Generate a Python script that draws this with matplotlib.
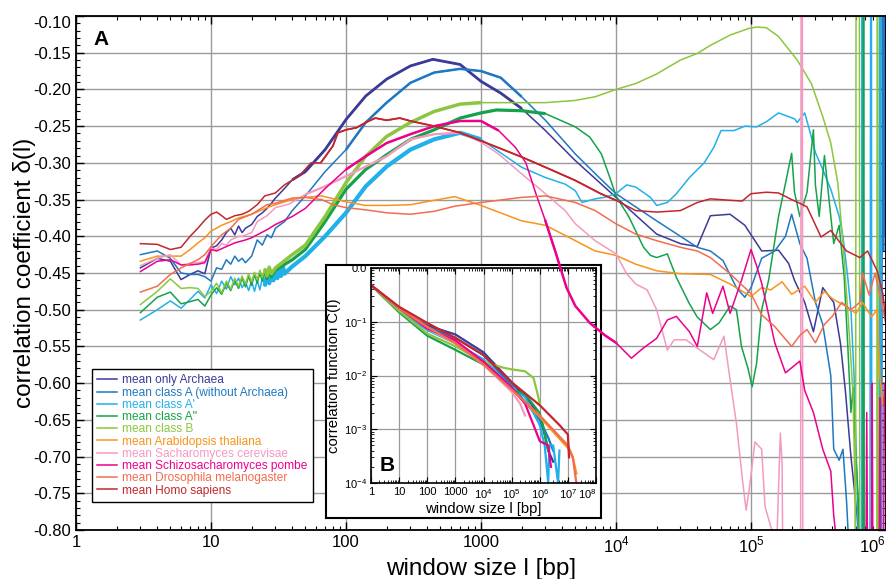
import numpy as np
import matplotlib
matplotlib.use('Agg')
import matplotlib.pyplot as plt
from matplotlib.ticker import MultipleLocator, LogLocator, NullFormatter
from matplotlib.lines import Line2D

plt.rcParams['font.family'] = ['Liberation Sans', 'DejaVu Sans']
plt.rcParams['mathtext.fontset'] = 'custom'
plt.rcParams['mathtext.rm'] = 'Liberation Sans'

# ---- panel A: window size l vs correlation coefficient delta(l) ----
archaea_l = [3, 4, 5, 6, 7, 8, 9, 10, 11, 12, 13, 14, 15, 16, 17, 18, 20, 22, 24, 26, 28, 30, 35, 40, 50, 70,
             100, 140, 200, 300, 440, 700, 1000, 1400, 2000, 3000, 5000, 1e4, 2e4, 3e4, 4e4, 5e4, 7e4, 9e4,
             1.2e5, 1.6e5, 1.9e5, 2.1e5, 2.5e5, 2.9e5, 3.4e5, 4.1e5, 4.6e5, 5e5, 5.5e5, 6.1e5, 6.6e5]
archaea_d = [-0.443, -0.430, -0.434, -0.459, -0.452, -0.447, -0.451, -0.416, -0.413, -0.405, -0.395, -0.389,
             -0.398, -0.386, -0.395, -0.389, -0.384, -0.373, -0.368, -0.362, -0.355, -0.348, -0.335, -0.323,
             -0.312, -0.282, -0.241, -0.209, -0.186, -0.168, -0.159, -0.166, -0.189, -0.205, -0.226, -0.256,
             -0.297, -0.347, -0.397, -0.410, -0.414, -0.372, -0.370, -0.385, -0.420, -0.419, -0.437, -0.460,
             -0.490, -0.530, -0.470, -0.490, -0.546, -0.610, -0.700, -0.780, -0.860]

classA_l = [3, 4, 5, 6, 7, 8, 9, 10, 11, 12, 13, 14, 15, 16, 17, 18, 20, 22, 24, 26, 28, 30, 35, 40, 50, 70,
            100, 140, 200, 300, 450, 700, 1000, 1400, 2000, 3000, 5000, 7500, 1e4, 1.4e4, 2e4, 3e4, 4e4, 5e4,
            6.2e4, 7.8e4, 9e4, 1e5, 1.2e5, 1.5e5, 1.8e5, 2e5, 2.3e5, 2.6e5, 3e5, 3.4e5, 3.9e5, 4.1e5, 4.5e5,
            4.8e5, 5.1e5, 5.4e5, 6.6e5, 6.7e5, 6.75e5, 6.8e5, 9.3e5, 9.4e5, 9.5e5, 9.6e5, 9.7e5, 9.8e5,
            9.9e5, 1e6]
classA_d = [-0.425, -0.420, -0.430, -0.450, -0.452, -0.452, -0.455, -0.461, -0.443, -0.445, -0.432, -0.438,
            -0.427, -0.434, -0.430, -0.436, -0.427, -0.405, -0.412, -0.398, -0.402, -0.389, -0.380, -0.365,
            -0.345, -0.312, -0.282, -0.245, -0.218, -0.191, -0.177, -0.172, -0.175, -0.184, -0.210, -0.242,
            -0.288, -0.320, -0.342, -0.360, -0.379, -0.400, -0.415, -0.420, -0.433, -0.470, -0.483, -0.470,
            -0.430, -0.420, -0.400, -0.370, -0.410, -0.430, -0.490, -0.520, -0.590, -0.690, -0.705, -0.690,
            -0.760, -0.850, -0.850, -0.050, -0.050, -0.850, -0.850, -0.050, -0.420, -0.050, -0.400, -0.050,
            -0.420, -0.050]

classA1_l = [3, 4, 5, 6, 7, 8, 9, 10, 11, 12, 13, 14, 15, 16, 17, 18, 19, 20, 21, 22, 23, 24, 25, 26, 27, 28,
             29, 30, 31, 32, 33, 34, 35, 40, 50, 70, 100, 140, 200, 300, 450, 700, 1000, 2000, 3000, 4200,
             5000, 5600, 7000, 8200, 1e4, 1.2e4, 1.4e4, 1.8e4, 2e4, 2.4e4, 2.8e4, 3.5e4, 4.5e4, 5.3e4, 6e4,
             7.5e4, 9e4, 1.1e5, 1.3e5, 1.6e5, 2.1e5, 2.2e5, 2.5e5, 2.7e5, 3e5, 3.4e5, 3.9e5, 4.5e5, 4.8e5,
             5.2e5, 5.5e5, 5.8e5, 6.1e5, 6.3e5, 6.6e5, 6.65e5, 6.7e5, 6.75e5, 7.6e5, 7.7e5, 7.8e5, 7.85e5,
             8.9e5, 9e5, 9.1e5, 9.15e5]
classA1_d = [-0.514, -0.500, -0.488, -0.498, -0.486, -0.475, -0.484, -0.466, -0.478, -0.461, -0.472, -0.455,
             -0.466, -0.457, -0.470, -0.462, -0.474, -0.461, -0.475, -0.460, -0.473, -0.456, -0.468, -0.452,
             -0.464, -0.449, -0.460, -0.446, -0.457, -0.443, -0.454, -0.440, -0.451, -0.441, -0.427, -0.400,
             -0.368, -0.332, -0.305, -0.282, -0.268, -0.259, -0.268, -0.306, -0.320, -0.329, -0.338, -0.354,
             -0.349, -0.347, -0.342, -0.330, -0.333, -0.347, -0.358, -0.354, -0.342, -0.320, -0.300, -0.279,
             -0.256, -0.256, -0.250, -0.251, -0.244, -0.232, -0.240, -0.245, -0.232, -0.254, -0.286, -0.309,
             -0.336, -0.373, -0.400, -0.455, -0.500, -0.590, -0.730, -0.850, -0.850, -0.050, -0.050, -0.850,
             -0.850, -0.050, -0.050, -0.850, -0.850, -0.050, -0.050, -0.850]

classA2_l = [3, 4, 5, 6, 7, 8, 9, 10, 11, 12, 13, 14, 15, 16, 17, 18, 19, 20, 21, 22, 23, 24, 25, 26, 27, 28,
             30, 40, 50, 70, 100, 140, 200, 300, 450, 700, 1000, 1300, 2000, 3000, 5000, 6400, 7800, 9000,
             1e4, 1.25e4, 1.6e4, 1.8e4, 2e4, 2.4e4, 2.8e4, 3.5e4, 4e4, 5e4, 5.8e4, 7e4, 7.8e4, 8.5e4, 9.5e4,
             1.02e5, 1.1e5, 1.2e5, 1.35e5, 1.6e5, 1.8e5, 2e5, 2.1e5, 2.3e5, 2.6e5, 2.9e5, 3e5, 3.2e5, 3.5e5,
             3.9e5, 4.1e5, 4.5e5, 4.9e5, 5.2e5, 5.5e5, 5.7e5, 5.9e5, 6.2e5, 6.5e5, 6.75e5, 6.8e5, 6.85e5,
             6.9e5]
classA2_d = [-0.504, -0.483, -0.476, -0.492, -0.489, -0.486, -0.495, -0.480, -0.470, -0.479, -0.464, -0.474,
             -0.460, -0.471, -0.457, -0.469, -0.454, -0.467, -0.452, -0.464, -0.450, -0.461, -0.448, -0.458,
             -0.445, -0.455, -0.446, -0.432, -0.418, -0.380, -0.336, -0.309, -0.289, -0.268, -0.255, -0.239,
             -0.232, -0.228, -0.229, -0.233, -0.251, -0.265, -0.288, -0.320, -0.345, -0.374, -0.415, -0.426,
             -0.429, -0.424, -0.456, -0.492, -0.510, -0.527, -0.518, -0.495, -0.500, -0.550, -0.580, -0.605,
             -0.573, -0.500, -0.460, -0.373, -0.328, -0.287, -0.340, -0.373, -0.340, -0.255, -0.330, -0.373,
             -0.290, -0.373, -0.410, -0.385, -0.455, -0.546, -0.640, -0.606, -0.680, -0.750, -0.850, -0.850,
             -0.050, -0.050, -0.850]

classB_l = [3, 4, 5, 6, 7, 8, 9, 10, 11, 12, 13, 14, 15, 16, 17, 18, 19, 20, 21, 22, 23, 24, 25, 26, 27, 28,
            30, 40, 50, 70, 100, 140, 200, 300, 450, 700, 1000, 2000, 3000, 5000, 7000, 1e4, 1.4e4, 2e4, 3e4,
            4e4, 5e4, 7e4, 9.6e4, 1.1e5, 1.3e5, 1.6e5, 2.2e5, 2.8e5, 3.4e5, 3.9e5, 4.4e5, 4.8e5, 5.2e5, 5.7e5,
            5.9e5, 5.95e5, 6e5, 6.35e5, 6.4e5, 8.55e5, 8.6e5, 8.7e5, 8.75e5]
classB_d = [-0.493, -0.475, -0.458, -0.471, -0.470, -0.471, -0.482, -0.475, -0.464, -0.477, -0.461, -0.472,
            -0.457, -0.468, -0.454, -0.465, -0.451, -0.462, -0.449, -0.459, -0.446, -0.456, -0.444, -0.454,
            -0.442, -0.451, -0.443, -0.425, -0.412, -0.373, -0.327, -0.291, -0.264, -0.245, -0.230, -0.220,
            -0.218, -0.218, -0.218, -0.215, -0.210, -0.200, -0.192, -0.179, -0.160, -0.151, -0.140, -0.126,
            -0.117, -0.115, -0.116, -0.128, -0.160, -0.192, -0.237, -0.273, -0.328, -0.409, -0.500, -0.614,
            -0.750, -0.850, -0.050, -0.050, -0.850, -0.850, -0.050, -0.050, -0.850]

arabid_l = [3, 4, 5, 6, 7, 8, 9, 10, 12, 14, 16, 20, 26, 30, 40, 50, 66, 100, 140, 200, 300, 450, 640, 1000,
            2000, 3000, 5000, 7000, 1e4, 1.4e4, 2e4, 3e4, 5e4, 7e4, 1e5, 1.2e5, 1.4e5, 1.7e5, 2e5, 2.5e5, 3e5,
            3.5e5, 4e5, 5e5, 6e5, 6.7e5, 7.8e5, 8.6e5, 9e5, 9.5e5, 1e6]
arabid_d = [-0.434, -0.427, -0.427, -0.427, -0.418, -0.409, -0.402, -0.393, -0.385, -0.380, -0.375, -0.370,
            -0.361, -0.357, -0.350, -0.347, -0.345, -0.353, -0.358, -0.358, -0.357, -0.351, -0.346, -0.358,
            -0.379, -0.385, -0.406, -0.420, -0.426, -0.438, -0.447, -0.451, -0.452, -0.465, -0.482, -0.470,
            -0.473, -0.462, -0.479, -0.468, -0.490, -0.475, -0.485, -0.495, -0.505, -0.490, -0.510, -0.500,
            -0.590, -0.630, -0.600]

sacch_l = [3, 4, 5, 6, 7, 8, 9, 10, 11, 12, 13, 14, 16, 17, 20, 22, 26, 30, 38, 50, 70, 100, 140, 200, 300,
           450, 700, 1000, 1350, 2000, 3000, 4200, 5000, 7000, 1e4, 1.2e4, 1.4e4, 1.7e4, 2e4, 2.4e4, 2.7e4,
           3.3e4, 4.2e4, 5.3e4, 6.3e4, 7e4, 7.8e4, 8.7e4, 9.2e4, 9.7e4, 1.07e5, 1.2e5, 1.27e5, 1.4e5, 1.55e5,
           1.65e5, 1.7e5, 1.72e5, 2.33e5, 2.35e5, 2.4e5, 2.42e5]
sacch_d = [-0.440, -0.430, -0.425, -0.439, -0.437, -0.436, -0.434, -0.416, -0.418, -0.410, -0.412, -0.405,
           -0.400, -0.400, -0.395, -0.380, -0.372, -0.361, -0.356, -0.343, -0.332, -0.318, -0.305, -0.291,
           -0.268, -0.261, -0.259, -0.272, -0.288, -0.315, -0.342, -0.365, -0.383, -0.406, -0.424, -0.451,
           -0.465, -0.473, -0.500, -0.555, -0.541, -0.541, -0.555, -0.568, -0.536, -0.595, -0.655, -0.736,
           -0.773, -0.745, -0.680, -0.690, -0.768, -0.795, -0.820, -0.668, -0.710, -0.850, -0.850, -0.050,
           -0.050, -0.850]

pombe_l = [3, 4, 5, 6, 7, 8, 9, 10, 11, 13, 15, 18, 20, 26, 30, 40, 50, 70, 100, 140, 200, 300, 450, 700,
           1000, 1350, 1800, 2150, 2550, 3000, 3600, 4300, 5000, 6400, 8300, 1e4, 1.3e4, 1.6e4, 2e4, 2.4e4,
           2.8e4, 3.5e4, 4e4, 4.7e4, 5.2e4, 6.2e4, 7e4, 8.5e4, 1e5, 1.1e5, 1.2e5, 1.5e5, 1.8e5, 2.3e5, 2.5e5,
           2.9e5, 3.4e5, 3.9e5, 4.1e5, 4.5e5, 7.1e5, 7.2e5, 7.3e5, 7.8e5, 7.9e5, 8e5, 8.9e5, 9e5, 9.1e5,
           9.6e5, 9.7e5, 1e6]
pombe_d = [-0.448, -0.434, -0.432, -0.439, -0.439, -0.438, -0.436, -0.418, -0.420, -0.414, -0.409, -0.405,
           -0.402, -0.391, -0.384, -0.373, -0.362, -0.335, -0.309, -0.291, -0.273, -0.261, -0.250, -0.243,
           -0.243, -0.256, -0.279, -0.300, -0.342, -0.379, -0.424, -0.470, -0.495, -0.518, -0.535, -0.545,
           -0.566, -0.552, -0.539, -0.514, -0.509, -0.530, -0.550, -0.477, -0.505, -0.468, -0.505, -0.460,
           -0.418, -0.440, -0.464, -0.545, -0.586, -0.570, -0.610, -0.640, -0.690, -0.720, -0.780, -0.850,
           -0.850, -0.640, -0.850, -0.850, -0.600, -0.850, -0.850, -0.620, -0.850, -0.850, -0.600, -0.700]

droso_l = [3, 4, 5, 6, 7, 8, 9, 10, 12, 14, 16, 20, 26, 30, 40, 50, 66, 80, 100, 140, 200, 300, 450, 640,
           1000, 2000, 3000, 5000, 7000, 1e4, 1.4e4, 2e4, 3e4, 4e4, 5e4, 7e4, 1e5, 1.2e5, 1.5e5, 2e5, 2.3e5,
           2.6e5, 3e5, 3.5e5, 4e5, 4.7e5, 5.5e5, 6.4e5, 6.7e5, 7.5e5, 8.3e5, 9e5, 1e6]
droso_d = [-0.476, -0.468, -0.452, -0.443, -0.437, -0.432, -0.425, -0.414, -0.398, -0.389, -0.377, -0.370,
           -0.357, -0.355, -0.348, -0.347, -0.350, -0.357, -0.361, -0.364, -0.368, -0.370, -0.366, -0.359,
           -0.354, -0.347, -0.345, -0.354, -0.365, -0.383, -0.397, -0.406, -0.415, -0.420, -0.429, -0.451,
           -0.478, -0.507, -0.523, -0.550, -0.535, -0.527, -0.545, -0.520, -0.509, -0.490, -0.500, -0.490,
           -0.450, -0.480, -0.450, -0.480, -0.520]

homo_l = [3, 4, 5, 6, 7, 8, 9, 10, 11, 12, 13, 15, 17, 19, 22, 25, 30, 35, 45, 55, 65, 80, 87, 100, 120, 140,
          165, 200, 250, 300, 450, 700, 1000, 2000, 3000, 5000, 7700, 1e4, 1.4e4, 2e4, 3e4, 4e4, 5e4, 7e4,
          8.6e4, 1e5, 1.3e5, 1.6e5, 2e5, 2.3e5, 2.6e5, 3.3e5, 3.9e5, 5.1e5, 6.4e5, 7.3e5, 8.6e5, 9.5e5, 1e6]
homo_d = [-0.410, -0.411, -0.418, -0.415, -0.400, -0.389, -0.378, -0.370, -0.367, -0.372, -0.377, -0.372,
          -0.370, -0.366, -0.357, -0.345, -0.341, -0.330, -0.318, -0.300, -0.300, -0.277, -0.259, -0.255,
          -0.252, -0.245, -0.239, -0.242, -0.239, -0.243, -0.250, -0.259, -0.270, -0.292, -0.306, -0.324,
          -0.342, -0.351, -0.365, -0.367, -0.365, -0.354, -0.349, -0.351, -0.352, -0.342, -0.340, -0.341,
          -0.350, -0.355, -0.360, -0.401, -0.392, -0.420, -0.429, -0.420, -0.447, -0.479, -0.520]

# ---- panel B: correlation function C(l) ----
archaea_cl = [1, 10, 100, 1000, 1e4, 1e5, 5e5, 1e6, 1.5e6, 2e6, 3e6]
archaea_c = [0.48, 0.17, 0.085, 0.058, 0.027, 0.0075, 0.003, 0.0016, 0.0008, 0.0004, 0.00025]
classA_cl = [1, 10, 100, 1000, 1e4, 1e5, 1e6, 2e6, 3e6]
classA_c = [0.48, 0.17, 0.08, 0.05, 0.024, 0.0065, 0.0015, 0.0007, 0.0004]
classA1_cl = [1, 10, 100, 1000, 1e4, 1e5, 3e5, 1e6, 1.5e6, 2e6, 2.2e6, 3e6, 4.5e6, 5e6]
classA1_c = [0.48, 0.16, 0.07, 0.04, 0.02, 0.006, 0.004, 0.0012, 0.0005, 0.0001, 0.0005, 0.0005, 0.0001, 0.0004]
classA2_cl = [1, 10, 100, 1000, 1e4, 1e5, 3e5, 1e6, 1.3e6, 2e6]
classA2_c = [0.48, 0.15, 0.055, 0.03, 0.016, 0.0055, 0.0045, 0.002, 0.0012, 0.0004]
classB_cl = [1, 10, 100, 1000, 1e4, 5e4, 1e5, 3e5, 6e5, 8e5, 1e6]
classB_c = [0.48, 0.16, 0.06, 0.035, 0.018, 0.014, 0.013, 0.012, 0.009, 0.005, 0.003]
arabid_cl = [1, 10, 100, 1000, 1e4, 1e5, 1e6, 1e7, 1.5e7, 2e7]
arabid_c = [0.48, 0.18, 0.08, 0.04, 0.016, 0.0055, 0.0017, 0.00045, 0.0003, 0.00015]
sacch_cl = [1, 10, 100, 1000, 1e4, 1e5, 2e5, 3e5]
sacch_c = [0.48, 0.18, 0.075, 0.04, 0.016, 0.005, 0.003, 0.0018]
pombe_cl = [1, 10, 100, 1000, 1e4, 1e5, 3e5, 6e5, 1e6, 2e6, 2.5e6]
pombe_c = [0.48, 0.18, 0.075, 0.045, 0.018, 0.006, 0.003, 0.0012, 0.0006, 0.0005, 0.0002]
droso_cl = [1, 10, 100, 1000, 1e4, 1e5, 1e6, 1e7, 1.5e7, 2e7]
droso_c = [0.48, 0.18, 0.08, 0.04, 0.016, 0.0055, 0.0018, 0.0005, 0.0003, 0.0001]
homo_cl = [1, 10, 100, 1000, 1e4, 1e5, 1e6, 5e6, 1e7, 1.1e7]
homo_c = [0.48, 0.19, 0.095, 0.05, 0.024, 0.0075, 0.0028, 0.0012, 0.0008, 0.0003]

labels = ['mean only Archaea', 'mean class A (without Archaea)', "mean class A'", "mean class A''",
          'mean class B', 'mean Arabidopsis thaliana', 'mean Sacharomyces cerevisae',
          'mean Schizosacharomyces pombe', 'mean Drosophila melanogaster', 'mean Homo sapiens']
colors = ['#3b3a98', '#1f78c1', '#22b0ea', '#16a24a', '#8cc63f', '#f7941d', '#f49ac1', '#ec008c',
          '#f26d4f', '#c1272d']
# extra line width and range where the dense curves look thick
thick = [(2.0, 40, 2000), (1.8, 80, 2500), (3.0, 25, 1200), (2.3, 25, 3000), (2.5, 25, 1200),
         (0, 1, 1), (1.6, 40, 800), (1.8, 100, 1500), (0, 1, 1), (1.3, 60, 1e4)]

main_data = [(archaea_l, archaea_d), (classA_l, classA_d), (classA1_l, classA1_d), (classA2_l, classA2_d),
             (classB_l, classB_d), (arabid_l, arabid_d), (sacch_l, sacch_d), (pombe_l, pombe_d),
             (droso_l, droso_d), (homo_l, homo_d)]
inset_data = [(archaea_cl, archaea_c), (classA_cl, classA_c), (classA1_cl, classA1_c),
              (classA2_cl, classA2_c), (classB_cl, classB_c), (arabid_cl, arabid_c), (sacch_cl, sacch_c),
              (pombe_cl, pombe_c), (droso_cl, droso_c), (homo_cl, homo_c)]

W, H = 887, 579
fig = plt.figure(figsize=(W / 100, H / 100), dpi=100)
ax = fig.add_axes([76 / W, 49 / H, 810 / W, 514 / H])

for (lx, ly), lab, col, (tw, t0, t1) in zip(main_data, labels, colors, thick):
    lx = np.array(lx)
    ly = np.array(ly)
    ax.plot(lx, ly, color=col, lw=1.1, label=lab)
    if tw > 0:
        m = (lx >= t0) & (lx <= t1)
        ax.plot(lx[m], ly[m], color=col, lw=tw, solid_capstyle='butt')

ax.set_xscale('log')
ax.set_xlim(1, 1e6)
ax.set_ylim(-0.80, -0.10)
ax.set_xticks([1, 10, 100, 1000, 1e4, 1e5, 1e6])
ax.set_xticklabels(['1', '10', '100', '1000', '10$^4$', '10$^5$', '10$^6$'])
ax.get_xticklabels()[-1].set_horizontalalignment('right')
ax.xaxis.set_minor_locator(LogLocator(base=10, subs=np.arange(2, 10), numticks=20))
ax.xaxis.set_minor_formatter(NullFormatter())
yt = np.arange(-0.80, -0.099, 0.05)
ax.set_yticks(yt)
ax.set_yticklabels(['%.2f' % v for v in yt])
ax.get_yticklabels()[-1].set_verticalalignment('top')
ax.yaxis.set_minor_locator(MultipleLocator(0.01))
ax.tick_params(which='both', direction='in', top=True, right=True, labelsize=12)
ax.tick_params(which='major', length=6, width=1)
ax.tick_params(which='minor', length=3, width=0.8)
ax.grid(True, which='major', color='#9a9a9a', lw=1.0)
ax.set_axisbelow(True)
for s in ax.spines.values():
    s.set_linewidth(1.3)
ax.set_xlabel('window size l [bp]', fontsize=17.5, labelpad=2)
ax.set_ylabel('correlation coefficient δ(l)', fontsize=17.5, labelpad=-2)
ax.text(0.031, 0.955, 'A', transform=ax.transAxes, fontsize=15, fontweight='bold', ha='center', va='center')

handles = [h for h in ax.get_lines() if not h.get_label().startswith('_')]
leg = ax.legend(handles=handles, loc='lower left', bbox_to_anchor=(0.0198, 0.0545), borderaxespad=0,
                fontsize=8.6, frameon=True, fancybox=False, framealpha=1, edgecolor='black',
                labelspacing=0.02, handlelength=1.6, handletextpad=0.5, borderpad=0.45)
leg.get_frame().set_linewidth(1.0)
for txt, ln in zip(leg.get_texts(), leg.get_lines()):
    txt.set_color(ln.get_color())

# ---- inset frame and panel B ----
frame = fig.add_axes([326 / W, 1 - 518 / H, 275 / W, 253 / H], zorder=3)
frame.set_xticks([])
frame.set_yticks([])
for s in frame.spines.values():
    s.set_linewidth(1.5)

axb = fig.add_axes([371 / W, 1 - 483 / H, 225 / W, 215 / H], zorder=4)
for (cx, cy), col in zip(inset_data, colors):
    axb.plot(cx, cy, color=col, lw=1.6)
axb.set_xscale('log')
axb.set_yscale('log')
axb.set_xlim(1, 1e8)
axb.set_ylim(1e-4, 1)
axb.set_xticks([1, 10, 100, 1000, 1e4, 1e5, 1e6, 1e7, 1e8])
axb.set_xticklabels(['1', '10', '100', '1000', '10$^4$', '10$^5$', '10$^6$', '10$^7$', '10$^8$'])
axb.get_xticklabels()[-1].set_horizontalalignment('right')
axb.set_yticks([1e-4, 1e-3, 1e-2, 1e-1, 1])
axb.set_yticklabels(['10$^{-4}$', '10$^{-3}$', '10$^{-2}$', '10$^{-1}$', '0.0'])
axb.xaxis.set_minor_locator(LogLocator(base=10, subs=np.arange(2, 10), numticks=20))
axb.yaxis.set_minor_locator(LogLocator(base=10, subs=np.arange(2, 10), numticks=20))
axb.xaxis.set_minor_formatter(NullFormatter())
axb.yaxis.set_minor_formatter(NullFormatter())
axb.tick_params(which='both', direction='in', top=True, right=True, labelsize=8, pad=3)
axb.tick_params(which='major', length=4, width=0.8)
axb.tick_params(which='minor', length=2, width=0.6)
axb.grid(True, which='major', color='#9a9a9a', lw=0.9)
axb.set_axisbelow(True)
for s in axb.spines.values():
    s.set_linewidth(1.2)
axb.set_xlabel('window size l [bp]', fontsize=10.7, labelpad=1)
axb.set_ylabel('correlation function C(l)', fontsize=10.7, labelpad=2)
axb.text(0.07, 0.081, 'B', transform=axb.transAxes, fontsize=15, fontweight='bold', ha='center', va='center')

# the S. pombe curve runs over the top right corner of the inset
pl = np.array(pombe_l)
pm = (pl >= 3000) & (pl <= 1.2e4)
over = Line2D(pl[pm], np.array(pombe_d)[pm], color=colors[7], lw=1.8, transform=ax.transData, zorder=5)
over.set_clip_path(ax.patch)
fig.add_artist(over)

plt.savefig('out.png', dpi=100)
